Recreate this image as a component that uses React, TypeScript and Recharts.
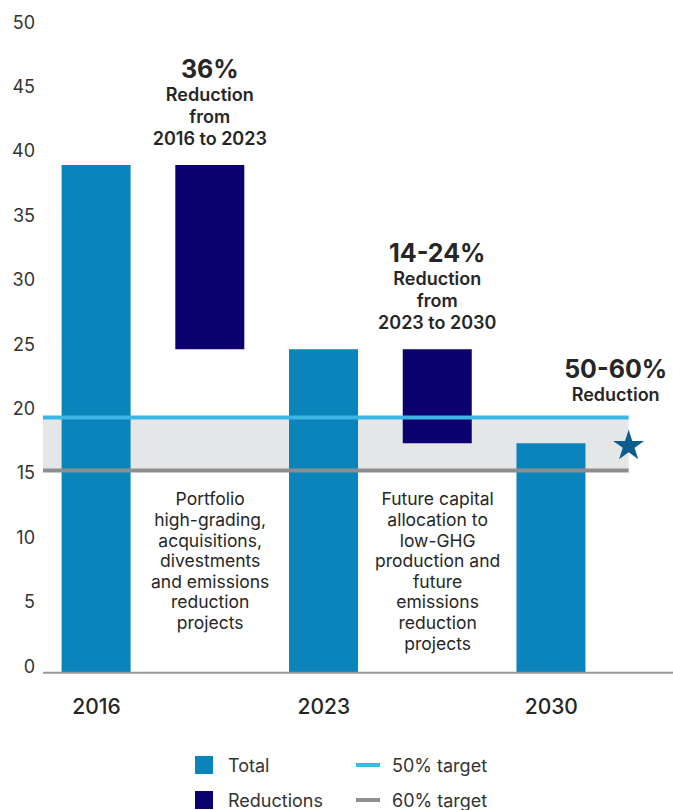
import React from 'react'
import {
  ComposedChart,
  Bar,
  XAxis,
  YAxis,
  ReferenceArea,
  ReferenceLine,
  ReferenceDot,
  LabelList,
} from 'recharts'

const FONT = 'Inter, "Noto Sans", sans-serif'
const TEXT = '#262626'
const BLUE = '#0A84BA'
const NAVY = '#0A006E'
const TARGET50_COLOR = '#3DB6E5'
const TARGET60_COLOR = '#8E8E8E'
const BAND = '#E5E6E8'
const STAR = '#0D5E8C'

// one slot per column, left to right
const slots = [0, 1, 2, 3, 4]
const slotLabels = ['2016', '', '2023', '', '2030']
const totals = [39.4, null, 25.1, null, 17.8]
const reductionFrom = [null, 39.4, null, 25.1, null]
const reductionTo = [null, 25.1, null, 17.8, null]

const reductionHeads: (string[] | null)[] = [
  null,
  ['36%', 'Reduction', 'from', '2016 to 2023'],
  null,
  ['14-24%', 'Reduction', 'from', '2023 to 2030'],
  null,
]

const noteSlots = [1, 3]
const notes = [
  ['Portfolio', 'high-grading,', 'acquisitions,', 'divestments', 'and emissions', 'reduction', 'projects'],
  ['Future capital', 'allocation to', 'low-GHG', 'production and', 'future', 'emissions', 'reduction', 'projects'],
]

const target50 = 19.8
const target60 = 15.7
const targetEnd = 4.68
const goalY = 17.6
const goalLines = ['50-60%', 'Reduction']

const xDomain = [-0.47, 5.07]
const xTicks = [0, 2, 4]
const yTicks = [0, 5, 10, 15, 20, 25, 30, 35, 40, 45, 50]

const data = slots.map((x, i) => ({
  x,
  total: totals[i],
  gap: reductionTo[i],
  reduction: reductionFrom[i] != null && reductionTo[i] != null ? reductionFrom[i]! - reductionTo[i]! : null,
  head: reductionHeads[i],
}))

function YTick({ x, y, payload }: any) {
  return (
    <text x={x} y={y} textAnchor="end" fontFamily={FONT} fontSize={18} fill="#333">
      {payload.value}
    </text>
  )
}

function XTick({ x, y, payload }: any) {
  return (
    <text x={x} y={y + 41} textAnchor="middle" fontFamily={FONT} fontSize={21} fontWeight={500} fill={TEXT}>
      {slotLabels[payload.value]}
    </text>
  )
}

function HeadLabel(props: any) {
  const { x, y, width, value } = props
  const lines: string[] | null = Array.isArray(value) ? value : null
  if (!lines) return null
  const cx = x + width / 2
  const base = y - 20
  return (
    <g>
      {lines.map((t, i) => {
        const fromBottom = lines.length - 1 - i
        const big = i === 0
        return (
          <text
            key={i}
            x={cx}
            y={base - fromBottom * 22 - (big ? 1.5 : 0)}
            textAnchor="middle"
            fontFamily={FONT}
            fontSize={big ? 25 : 18}
            fontWeight={big ? 700 : 600}
            fill={TEXT}
          >
            {t}
          </text>
        )
      })}
    </g>
  )
}

function noteLabel(lines: string[]) {
  return (props: any) => {
    const vb = props.viewBox || {}
    const cx = vb.x + (vb.width || 0) / 2
    const cy = vb.y + (vb.height || 0) / 2
    return (
      <g>
        {lines.map((t, i) => (
          <text key={i} x={cx} y={cy + 35 + i * 20.6} textAnchor="middle" fontFamily={FONT} fontSize={17.5} fill={TEXT}>
            {t}
          </text>
        ))}
      </g>
    )
  }
}

function goalLabel(props: any) {
  const vb = props.viewBox || {}
  const cx = vb.x + (vb.width || 0) / 2
  const cy = vb.y + (vb.height || 0) / 2
  return (
    <g>
      <text x={cx - 13} y={cy - 68} textAnchor="middle" fontFamily={FONT} fontSize={25} fontWeight={700} fill={TEXT}>
        {goalLines[0]}
      </text>
      <text x={cx - 13} y={cy - 44.5} textAnchor="middle" fontFamily={FONT} fontSize={18} fontWeight={600} fill={TEXT}>
        {goalLines[1]}
      </text>
    </g>
  )
}

function StarShape({ cx, cy }: any) {
  const R = 16.3
  const r = R * 0.382
  const pts: string[] = []
  for (let k = 0; k < 10; k++) {
    const rad = k % 2 === 0 ? R : r
    const a = -Math.PI / 2 + (k * Math.PI) / 5
    pts.push(`${cx + rad * Math.cos(a)},${cy + rad * Math.sin(a)}`)
  }
  return <polygon points={pts.join(' ')} fill={STAR} />
}

function LegendBlock() {
  const items = [
    { kind: 'box', color: BLUE, label: 'Total', x: 195, y: 765 },
    { kind: 'box', color: NAVY, label: 'Reductions', x: 195, y: 800 },
    { kind: 'line', color: TARGET50_COLOR, label: '50% target', x: 356, y: 765 },
    { kind: 'line', color: TARGET60_COLOR, label: '60% target', x: 356, y: 800 },
  ]
  return (
    <svg width={673} height={810} style={{ position: 'absolute', left: 0, top: 0, pointerEvents: 'none' }}>
      {items.map((it) => (
        <g key={it.label}>
          {it.kind === 'box' ? (
            <rect x={it.x} y={it.y - 9} width={18} height={18} fill={it.color} />
          ) : (
            <rect x={it.x} y={it.y - 2} width={24} height={4} fill={it.color} />
          )}
          <text
            x={it.kind === 'box' ? it.x + 33 : it.x + 36}
            y={it.y + 7}
            fontFamily={FONT}
            fontSize={18}
            fill="#333"
          >
            {it.label}
          </text>
        </g>
      ))}
    </svg>
  )
}

export default function App() {
  return (
    <div style={{ position: 'absolute', left: 0, top: 0, width: 673, height: 810, background: '#fff', fontFamily: FONT }}>
      <ComposedChart width={673} height={810} data={data} margin={{ top: 28.5, right: 0, bottom: 77.3, left: 0 }}>
        <XAxis
          dataKey="x"
          type="number"
          domain={xDomain}
          allowDataOverflow
          ticks={xTicks}
          tick={<XTick />}
          tickLine={false}
          tickSize={0}
          tickMargin={0}
          height={60}
          axisLine={{ stroke: '#999', strokeWidth: 2 }}
        />
        <YAxis
          type="number"
          domain={[0, 50]}
          ticks={yTicks}
          tick={<YTick />}
          axisLine={false}
          tickLine={false}
          tickSize={0}
          tickMargin={8}
          width={43}
        />
        <ReferenceArea x1={xDomain[0]} x2={targetEnd} y1={target60} y2={target50} fill={BAND} fillOpacity={1} stroke="none" />
        <Bar dataKey="total" stackId="a" fill={BLUE} barSize={69} isAnimationActive={false} />
        <Bar dataKey="gap" stackId="a" fill="transparent" barSize={69} isAnimationActive={false} />
        <Bar dataKey="reduction" stackId="a" fill={NAVY} barSize={69} isAnimationActive={false}>
          <LabelList dataKey="head" content={<HeadLabel />} />
        </Bar>
        <ReferenceLine
          segment={[{ x: xDomain[0], y: target50 }, { x: targetEnd, y: target50 }]}
          stroke={TARGET50_COLOR}
          strokeWidth={4}
        />
        <ReferenceLine
          segment={[{ x: xDomain[0], y: target60 }, { x: targetEnd, y: target60 }]}
          stroke={TARGET60_COLOR}
          strokeWidth={4}
        />
        {noteSlots.map((s, k) => (
          <ReferenceDot key={s} x={s} y={target60} r={0} fill="none" stroke="none" label={noteLabel(notes[k])} />
        ))}
        <ReferenceDot x={targetEnd} y={goalY} r={16} shape={<StarShape />} label={goalLabel} />
      </ComposedChart>
      <LegendBlock />
    </div>
  )
}
